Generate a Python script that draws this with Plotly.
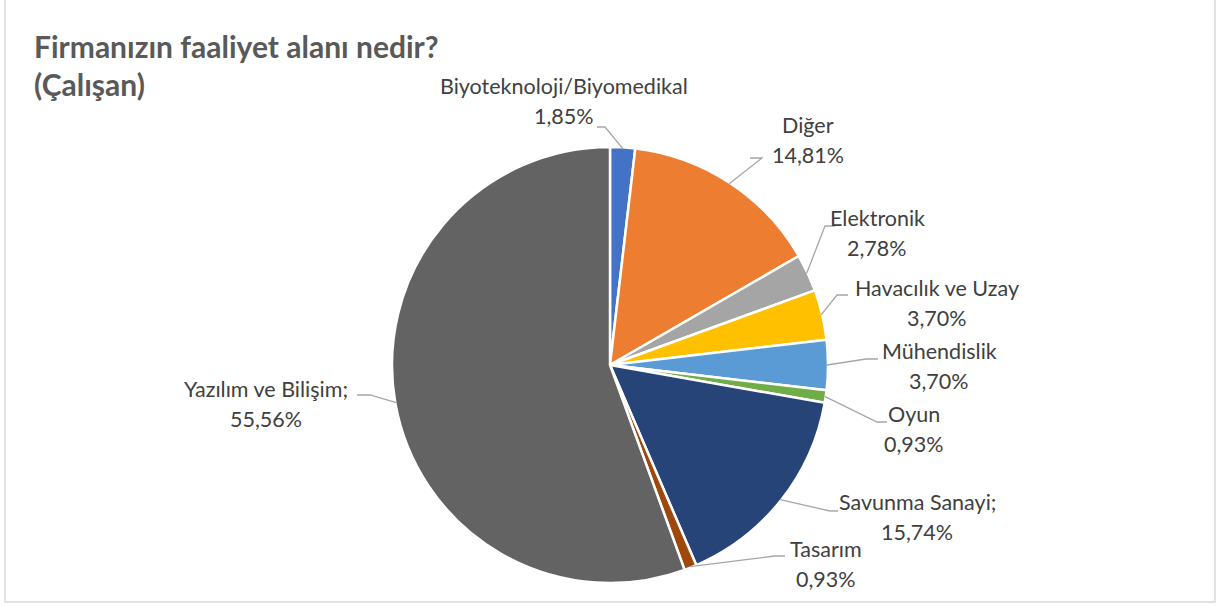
import math
import plotly.graph_objects as go

# Veriler (çalışan yanıt sayıları, toplam 108)
labels = ['Biyoteknoloji/Biyomedikal', 'Diğer', 'Elektronik', 'Havacılık ve Uzay',
          'Mühendislik', 'Oyun', 'Savunma Sanayi', 'Tasarım', 'Yazılım ve Bilişim']
counts = [2, 16, 3, 4, 4, 1, 17, 1, 60]
label_sep = ['', '', '', '', '', '', ';', '', ';']
colors = ['#4472C4', '#ED7D31', '#A5A5A5', '#FFC000', '#5B9BD5',
          '#70AD47', '#264478', '#9E480E', '#636363']

W, H = 1217, 606
CX, CY, R = 610, 365, 218

# etiket yerleşimi (piksel): metin merkezi, dirsek noktası, çizgi ucu
text_pos = [(564, 101), (808, 140), (877, 233), (937, 303), (939, 366),
            (914, 429), (917, 517), (826, 564), (266, 404)]
elbow_pos = [(605, 127), (762, 158), (825, 226), (837, 295), (866, 359),
             (877, 422), (830, 511), (775, 556), (370, 395)]
end_pos = [(597, 127), (750, 158), (835, 226), (848, 295), (878, 359),
           (887, 422), (838, 511), (785, 556), (357, 395)]


def px(x):
    return x / W


def py(y):
    return 1 - y / H


fig = go.Figure()
fig.add_trace(go.Pie(
    labels=labels, values=counts, sort=False, direction='clockwise',
    marker=dict(colors=colors, line=dict(color='white', width=2.5)),
    textinfo='none', hoverinfo='label+percent', showlegend=False,
    domain=dict(x=[px(CX - R), px(CX + R)], y=[py(CY + R), py(CY - R)]),
))

total = sum(counts)
cum = 0
font = dict(family='Lato', size=21.5, color='#404040')
for i, (lab, c) in enumerate(zip(labels, counts)):
    mid = (cum + c / 2) / total * 2 * math.pi
    cum += c
    sx = CX + (R - 1) * math.sin(mid)
    sy = CY - (R - 1) * math.cos(mid)
    pct = f'{c / total * 100:.2f}%'.replace('.', ',')
    tx, ty = text_pos[i]
    fig.add_annotation(x=px(tx), y=py(ty - 15), xref='paper', yref='paper',
                       text=lab + label_sep[i], showarrow=False, font=font,
                       xanchor='center', yanchor='middle')
    fig.add_annotation(x=px(tx), y=py(ty + 15), xref='paper', yref='paper',
                       text=pct, showarrow=False, font=font,
                       xanchor='center', yanchor='middle')
    bx, by = elbow_pos[i]
    ex, ey = end_pos[i]
    fig.add_shape(type='path', xref='paper', yref='paper',
                  path=f'M {px(sx)} {py(sy)} L {px(bx)} {py(by)} L {px(ex)} {py(ey)}',
                  line=dict(color='#A6A6A6', width=1.3))

# başlık
tfont = dict(family='Lato', size=30, color='#595959')
fig.add_annotation(x=px(32), y=py(46), xref='paper', yref='paper',
                   text='<b>Firmanızın faaliyet alanı nedir?</b>', showarrow=False,
                   font=tfont, xanchor='left', yanchor='middle')
fig.add_annotation(x=px(32), y=py(84), xref='paper', yref='paper',
                   text='<b>(Çalışan)</b>', showarrow=False,
                   font=tfont, xanchor='left', yanchor='middle')

# grafik alanı çerçevesi
fig.add_shape(type='rect', xref='paper', yref='paper',
              x0=px(5), x1=px(1215), y0=py(602), y1=py(-2),
              line=dict(color='#D9D9D9', width=1.5))

fig.update_layout(
    width=W, height=H, margin=dict(l=0, r=0, t=0, b=0),
    paper_bgcolor='white', plot_bgcolor='white',
)
fig.write_html("out.html", config={'displayModeBar': False},
               post_script="document.body.style.margin='0';")
